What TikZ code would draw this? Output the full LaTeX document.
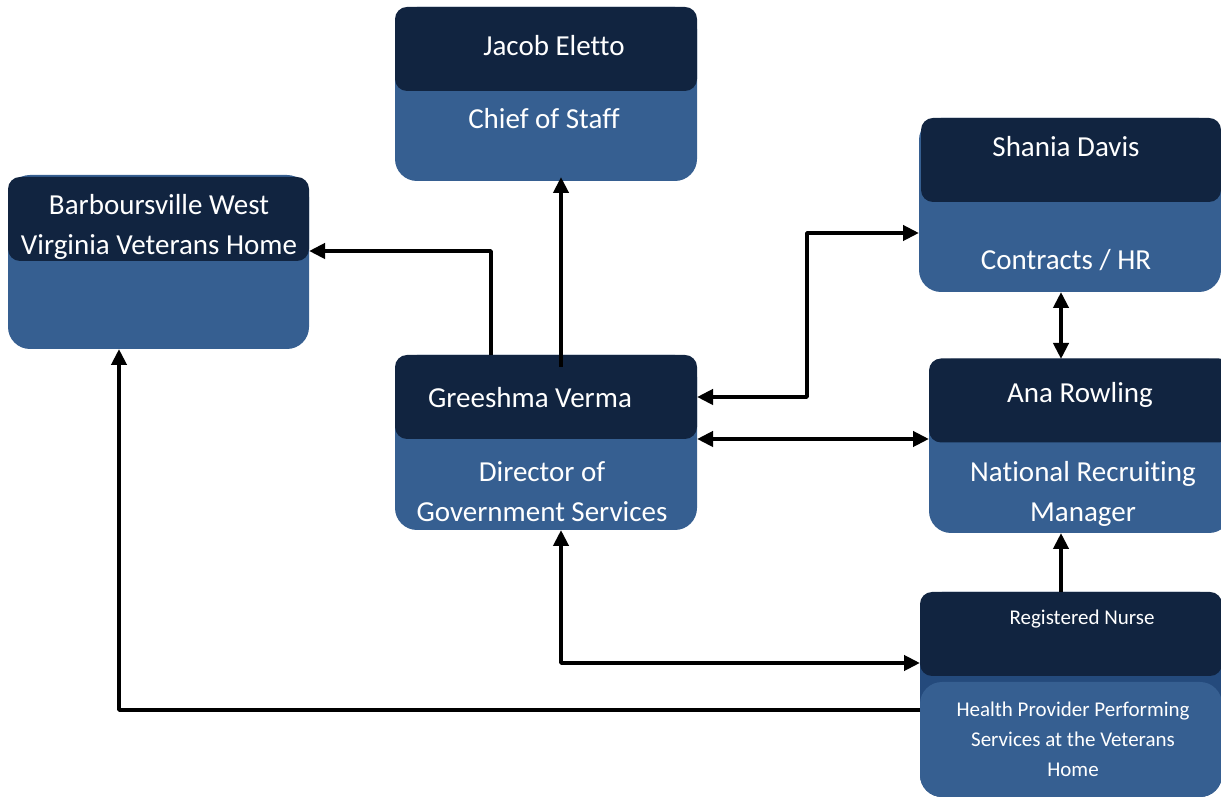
\documentclass[tikz,border=0pt]{standalone}
\usepackage{fontspec}
\setmainfont{Carlito}[Ligatures={NoCommon}]
\usetikzlibrary{arrows.meta}
\definecolor{boxtop}{HTML}{112440}
\definecolor{boxbody}{HTML}{365F91}
\definecolor{boxmid}{HTML}{244A7C}
\begin{document}
\begin{tikzpicture}[>={Triangle[length=16bp,width=15bp]},line join=bevel,
  body/.style={fill=boxbody,draw=none,rounded corners=22bp,inner sep=0pt,outer sep=0pt,minimum width=302bp,minimum height=174bp},
  head/.style={fill=boxtop,draw=none,rounded corners=12bp,inner sep=0pt,outer sep=0pt,minimum width=302bp,minimum height=84bp},
  lbl/.style={text=white,align=center,inner sep=0pt,font=\fontsize{29bp}{40bp}\selectfont},
  small/.style={text=white,align=center,inner sep=0pt,font=\fontsize{21bp}{30bp}\selectfont},
  link/.style={black,line width=4bp}]
\useasboundingbox (0bp,0bp) rectangle (1221bp,797bp);
%%
\node (je) at (546.0bp,703.0bp) [body] {};
  \node (je-top) at (546.0bp,748.0bp) [head] {};
  \node (je-name) at (554.0bp,751.0bp) [lbl] {Jacob Eletto};
  \node (je-role) at (544.0bp,678.0bp) [lbl] {Chief of Staff};
\node (bw) at (158.5bp,535.0bp) [body,minimum width=301bp] {};
  \node (bw-top) at (158.5bp,578.0bp) [head,minimum width=301bp] {};
  \node (bw-name) at (159.0bp,570.5bp) [lbl] {Barboursville West\\Virginia Veterans Home};
\node (gv) at (546.0bp,354.5bp) [body,minimum height=175bp] {};
  \node (gv-top) at (546.0bp,400.0bp) [head] {};
  \node (gv-name) at (530.0bp,399.0bp) [lbl] {Greeshma Verma};
  \node (gv-role) at (542.0bp,305.0bp) [lbl] {Director of\\Government Services};
\node (sd) at (1070.0bp,592.0bp) [body] {};
  \node (sd-top) at (1071.0bp,637.0bp) [head,minimum width=300bp] {};
  \node (sd-name) at (1066.0bp,650.0bp) [lbl] {Shania Davis};
  \node (sd-role) at (1066.0bp,537.0bp) [lbl] {Contracts / HR};
\node (ar) at (1080.0bp,351.0bp) [body] {};
  \node (ar-top) at (1080.0bp,396.5bp) [head] {};
  \node (ar-name) at (1080.0bp,402.0bp) [lbl] {Ana Rowling};
  \node (ar-role) at (1083.0bp,303.0bp) [lbl] {National Recruiting\\Manager};
\node (rn) at (1071.0bp,102.5bp) [body,fill=boxmid,minimum height=205bp] {};
  \node (rn-top) at (1071.0bp,163.0bp) [head] {};
  \node (rn-low) at (1071.0bp,57.5bp) [body,minimum height=115bp] {};
  \node (rn-name) at (1082.0bp,178.0bp) [small] {Registered Nurse};
  \node (rn-role) at (1073.0bp,57.5bp) [small] {Health Provider Performing\\Services at the Veterans\\Home};
%
\coordinate (k-je) at (561.0bp,430.0bp);
\coordinate (k-bw) at (491.0bp,546.0bp);
\coordinate (k-sd) at (807.0bp,564.0bp);
\coordinate (k-rn) at (561.0bp,134.0bp);
\coordinate (k-home) at (119.0bp,87.0bp);
  \draw [link,->] (k-je) -- ([yshift=4bp]je.south -| k-je);
  \draw [link,->] (gv.north -| k-bw) |- (bw.east |- k-bw);
  \draw [link,<->] (gv-top.east) -| (k-sd) -- (sd.west |- k-sd);
  \draw [link,<->] ([yshift=3.5bp]gv.east) -- ([yshift=3.5bp]gv.east -| ar.west);
  \draw [link,<->] ([xshift=-9bp]sd.south) -- ([xshift=-9bp]sd.south |- ar.north);
  \draw [link,->] ([xshift=-10bp]rn.north) -- ([xshift=-10bp]rn.north |- ar.south);
  \draw [link,<->] (gv.south -| k-rn) |- (rn.west |- k-rn);
  \draw [link,->] (rn.west |- k-home) -| (bw.south -| k-home);
%
\end{tikzpicture}
\end{document}
